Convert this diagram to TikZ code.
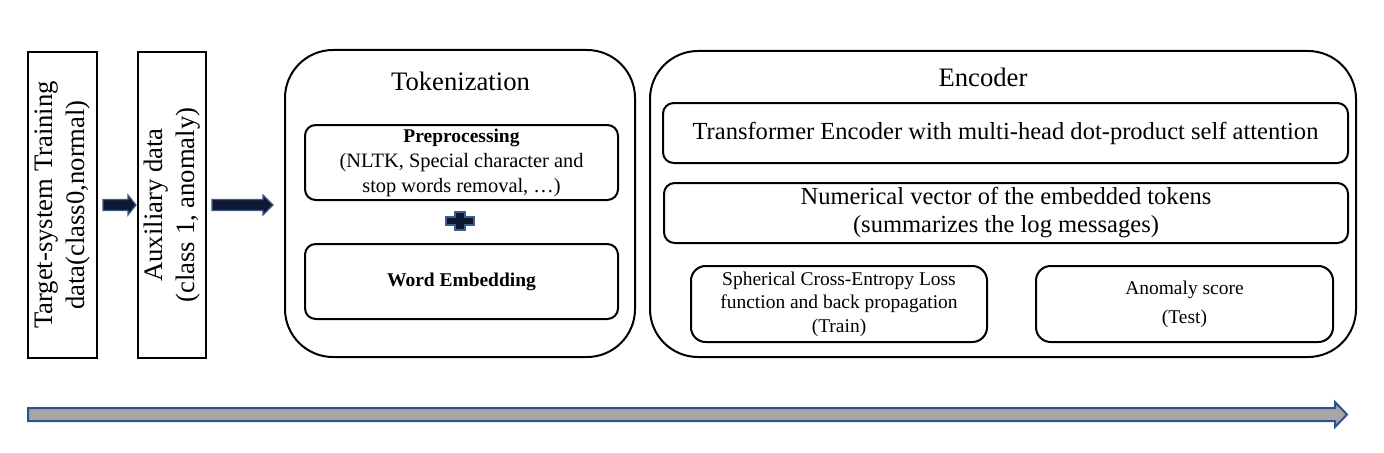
\documentclass[tikz,border=0pt]{standalone}
\usepackage{fontspec}
\setmainfont{Liberation Serif}
\usetikzlibrary{calc}
\definecolor{navy}{RGB}{14,24,50}
\definecolor{navyedge}{RGB}{62,92,140}
\definecolor{bargray}{RGB}{166,166,166}
\definecolor{baredge}{RGB}{47,82,143}
\begin{document}
\begin{tikzpicture}[x=0.75pt,y=-0.75pt,
  wh/.style 2 args={minimum width=#1*0.75pt, minimum height=#2*0.75pt},
  sq/.style={draw, line width=1.5pt, inner sep=0pt, align=center, font={\fontsize{20}{23.5}\selectfont}},
  panel/.style={draw, line width=1.5pt, rounded corners=36pt, inner sep=0pt},
  ibox/.style={draw, line width=1.5pt, rounded corners=8pt, inner sep=0pt, align=center},
  titlefont/.style={font={\fontsize{20}{23.5}\selectfont}},
  encfont/.style={font={\fontsize{18.4}{21}\selectfont}},
  tokfont/.style={font={\fontsize{15.3}{18.8}\selectfont}},
  smallfont/.style={font={\fontsize{14.6}{17.6}\selectfont}},
  blk/.style={fill=navy, draw=navyedge, line width=0.9pt, line join=miter},
  timeline/.style={fill=bargray, draw=baredge, line width=1.5pt, line join=miter}]
\useasboundingbox (0,0) rectangle (1384,453);

% input boxes
\node[sq, rotate=90, wh={306}{69}] (src) at (62.5,205) {Target-system Training\\data(class0,normal)};
\node[sq, rotate=90, wh={306}{68}] (aux) at (172,205) {Auxiliary data\\(class 1, anomaly)};

% tokenization panel
\node[panel, wh={350}{307}] (tok) at (460,203.5) {};
\node[titlefont, anchor=base] (toktitle) at (460.5,90) {Tokenization};
\node[ibox, tokfont, wh={313}{75}] (pre) at (461.5,162.5)
  {{\bfseries\fontsize{14.6}{18.8}\selectfont Preprocessing}\\(NLTK, Special character and\\stop words removal, \dots)};
\node[ibox, wh={313}{75}, font={\fontsize{14.6}{18}\selectfont\bfseries}] (emb) at (461.5,281.5) {Word Embedding};
\coordinate (plus) at (460,221);

% encoder panel
\node[panel, wh={706}{306}] (enc) at (1003,204) {};
\node[titlefont, anchor=base] (enctitle) at (983,87) {Encoder};
\node[ibox, encfont, wh={685}{60}] (trf) at (1005.5,133) {Transformer Encoder with multi-head dot-product self attention};
\node[ibox, encfont, wh={684}{60}] (num) at (1006,213) {Numerical vector of the embedded tokens\\(summarizes the log messages)};
\node[ibox, smallfont, rounded corners=11pt, wh={296}{76}] (loss) at (839,304) {Spherical Cross-Entropy Loss\\function and back propagation\\(Train)};
\node[ibox, smallfont, rounded corners=11pt, wh={297}{76}] (score) at (1184.5,304) {Anomaly score\\[4pt](Test)};

% block arrows between boxes
\draw[blk] ($(src.south)+(5,-5.5)$) -- ++(25,0) -- ++(0,-4.5) -- ++(8,10) -- ++(-8,10) -- ++(0,-4.5) -- ++(-25,0) -- cycle;
\draw[blk] ($(aux.south)+(5,-5.5)$) -- ++(51,0) -- ++(0,-4.5) -- ++(10,10) -- ++(-10,10) -- ++(0,-4.5) -- ++(-51,0) -- cycle;

% plus sign
\draw[blk] ($(plus)+(-14,-4)$) -- ++(9,0) -- ++(0,-5) -- ++(10,0) -- ++(0,5) -- ++(9,0) -- ++(0,8) -- ++(-9,0) -- ++(0,5) -- ++(-10,0) -- ++(0,-5) -- ++(-9,0) -- cycle;

% timeline arrow
\draw[timeline] (28,408) -- (1335,408) -- (1335,402) -- (1347,414.5) -- (1335,427) -- (1335,421) -- (28,421) -- cycle;
\end{tikzpicture}
\end{document}
